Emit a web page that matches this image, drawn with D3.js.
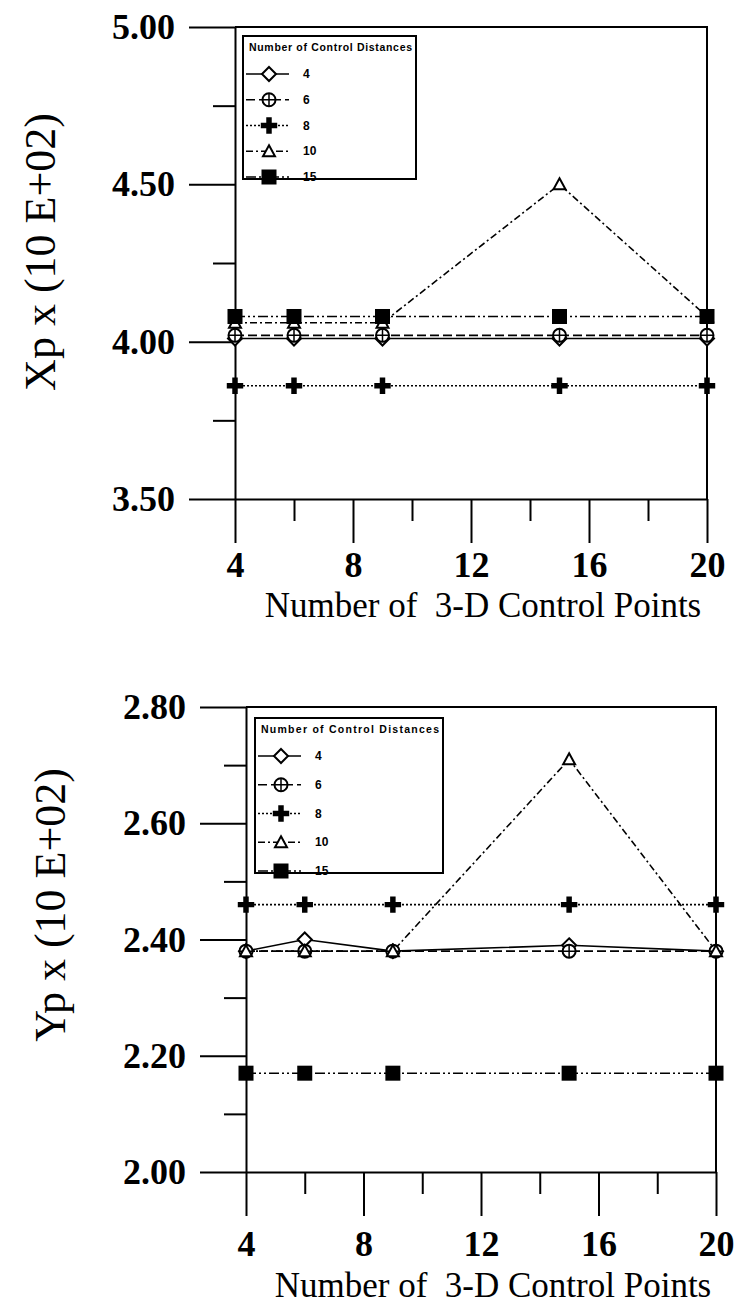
<!DOCTYPE html>
<html>
<head>
<meta charset="utf-8">
<script src="https://cdn.jsdelivr.net/npm/d3@7"></script>
<style>
body { margin: 0; background: #fff; }
</style>
</head>
<body>
<div id="chart"></div>
<script>
// x positions: number of 3-D control points
const controlPoints = [4, 6, 9, 15, 20];
// legend entries: number of control distances
const distanceLabels = ["4", "6", "8", "10", "15"];

// Xp (x 10E+02)
const xp4  = [4.01, 4.01, 4.01, 4.01, 4.01];
const xp6  = [4.02, 4.02, 4.02, 4.02, 4.02];
const xp8  = [3.86, 3.86, 3.86, 3.86, 3.86];
const xp10 = [4.06, 4.06, 4.06, 4.50, 4.08];
const xp15 = [4.08, 4.08, 4.08, 4.08, 4.08];

// Yp (x 10E+02)
const yp4  = [2.38, 2.40, 2.38, 2.39, 2.38];
const yp6  = [2.38, 2.38, 2.38, 2.38, 2.38];
const yp8  = [2.46, 2.46, 2.46, 2.46, 2.46];
const yp10 = [2.38, 2.38, 2.38, 2.71, 2.38];
const yp15 = [2.17, 2.17, 2.17, 2.17, 2.17];

// ticks
const xTicksMajor = [4, 8, 12, 16, 20];
const xTicksMinor = [6, 10, 14, 18];
const xpTicksMajor = [3.5, 4.0, 4.5, 5.0];
const xpTicksMinor = [3.75, 4.25, 4.75];
const ypTicksMajor = [2.0, 2.2, 2.4, 2.6, 2.8];
const ypTicksMinor = [2.1, 2.3, 2.5, 2.7];

// line dash and marker for each series (same order as distanceLabels)
const lineDash = ["none", "9,4", "2,2", "7,3,2,3", "10,3,2,3,2,3"];
const markerType = ["diamond", "circlePlus", "plus", "triangle", "square"];

const W = 737, H = 1316;
const serif = "'Liberation Serif', 'Times New Roman', serif";
const sans = "'Liberation Sans', Arial, sans-serif";

const svg = d3.select("#chart").append("svg")
    .attr("width", W)
    .attr("height", H);

const panels = [
    {
        values: [xp4, xp6, xp8, xp10, xp15],
        yDomain: [3.5, 5.0], yMajor: xpTicksMajor, yMinor: xpTicksMinor,
        xRange: [235, 707], yRange: [499, 27],
        labelPad: 8, titleOffset: 118,
        title: "Xp x (10 E+02)", titleX: 40, titleY: 252,
        legend: { x: 243, y: 36, w: 173, h: 143 }
    },
    {
        values: [yp4, yp6, yp8, yp10, yp15],
        yDomain: [2.0, 2.8], yMajor: ypTicksMajor, yMinor: ypTicksMinor,
        xRange: [246, 716], yRange: [1172, 707],
        labelPad: 14, titleOffset: 125,
        title: "Yp x (10 E+02)", titleX: 50, titleY: 905,
        legend: { x: 255, y: 718, w: 188, h: 155 }
    }
];

function drawMarker(g, type, cx, cy) {
    if (type === "diamond") {
        g.append("path")
            .attr("d", `M${cx},${cy - 7}L${cx + 7},${cy}L${cx},${cy + 7}L${cx - 7},${cy}Z`)
            .attr("fill", "#fff").attr("stroke", "#000").attr("stroke-width", 2);
    } else if (type === "circlePlus") {
        g.append("circle").attr("cx", cx).attr("cy", cy).attr("r", 6.5)
            .attr("fill", "#fff").attr("stroke", "#000").attr("stroke-width", 2);
        g.append("path")
            .attr("d", `M${cx - 6.5},${cy}H${cx + 6.5}M${cx},${cy - 6.5}V${cy + 6.5}`)
            .attr("stroke", "#000").attr("stroke-width", 1.5);
    } else if (type === "plus") {
        g.append("path")
            .attr("transform", `translate(${cx},${cy})`)
            .attr("d", d3.symbol(d3.symbolCross, 150)())
            .attr("fill", "#000");
    } else if (type === "triangle") {
        g.append("path")
            .attr("d", `M${cx},${cy - 6}L${cx + 6},${cy + 5}L${cx - 6},${cy + 5}Z`)
            .attr("fill", "#fff").attr("stroke", "#000").attr("stroke-width", 2);
    } else {
        g.append("rect").attr("x", cx - 7.5).attr("y", cy - 7.5)
            .attr("width", 15).attr("height", 15).attr("fill", "#000");
    }
}

panels.forEach(p => {
    const x = d3.scaleLinear().domain([4, 20]).range(p.xRange);
    const y = d3.scaleLinear().domain(p.yDomain).range(p.yRange);
    const g = svg.append("g");
    const x0 = p.xRange[0], x1 = p.xRange[1];
    const yb = p.yRange[0], yt = p.yRange[1];

    // frame: top and right
    g.append("path")
        .attr("d", `M${x0},${yt}H${x1}V${yb}`)
        .attr("fill", "none").attr("stroke", "#000").attr("stroke-width", 2);

    // x axis
    const xMaj = g.append("g").attr("transform", `translate(0,${yb})`)
        .call(d3.axisBottom(x).tickValues(xTicksMajor).tickSize(44).tickSizeOuter(0)
            .tickPadding(p.labelPad).tickFormat(d3.format("d")));
    const xMin = g.append("g").attr("transform", `translate(0,${yb})`)
        .call(d3.axisBottom(x).tickValues(xTicksMinor).tickSize(22).tickFormat(""));
    xMin.select(".domain").remove();

    // y axis
    const yMaj = g.append("g").attr("transform", `translate(${x0},0)`)
        .call(d3.axisLeft(y).tickValues(p.yMajor).tickSize(46).tickSizeOuter(0)
            .tickPadding(14).tickFormat(d3.format(".2f")));
    const yMin = g.append("g").attr("transform", `translate(${x0},0)`)
        .call(d3.axisLeft(y).tickValues(p.yMinor).tickSize(22).tickFormat(""));
    yMin.select(".domain").remove();

    [xMaj, xMin, yMaj, yMin].forEach(a => {
        a.selectAll("path, line").attr("stroke", "#000").attr("stroke-width", 2);
        a.selectAll("text")
            .attr("fill", "#000")
            .style("font-family", serif)
            .style("font-weight", "bold")
            .style("font-size", "36px");
    });

    // axis titles
    g.append("text")
        .attr("x", (x0 + x1) / 2 + 12)
        .attr("y", yb + p.titleOffset)
        .attr("text-anchor", "middle")
        .style("font-family", serif)
        .style("font-size", "35px")
        .text("Number of\u00a0 3-D Control Points");

    g.append("text")
        .attr("transform", `translate(${p.titleX},${p.titleY}) rotate(-90)`)
        .attr("text-anchor", "middle")
        .attr("dy", "0.35em")
        .style("font-family", serif)
        .style("font-size", "44px")
        .text(p.title);

    // series lines
    const line = d3.line()
        .x((d, i) => x(controlPoints[i]))
        .y(d => y(d));

    p.values.forEach((vals, s) => {
        g.append("path")
            .datum(vals)
            .attr("d", line)
            .attr("fill", "none")
            .attr("stroke", "#000")
            .attr("stroke-width", 1.6)
            .attr("stroke-dasharray", lineDash[s]);
    });

    // markers
    p.values.forEach((vals, s) => {
        const mg = g.append("g");
        vals.forEach((v, i) => drawMarker(mg, markerType[s], x(controlPoints[i]), y(v)));
    });

    // legend
    const L = p.legend;
    const lg = g.append("g").attr("transform", `translate(${L.x},${L.y})`);
    lg.append("rect")
        .attr("width", L.w).attr("height", L.h)
        .attr("fill", "#fff").attr("stroke", "#000").attr("stroke-width", 2);
    lg.append("text")
        .attr("x", 6).attr("y", 15)
        .style("font-family", sans)
        .style("font-weight", "bold")
        .style("font-size", "10.5px")
        .attr("textLength", L.w - 10)
        .text("Number of Control Distances");
    const rowStep = (L.h - 40) / 4;
    distanceLabels.forEach((lab, s) => {
        const ry = 38 + s * rowStep;
        lg.append("line")
            .attr("x1", 3).attr("x2", 46).attr("y1", ry).attr("y2", ry)
            .attr("stroke", "#000").attr("stroke-width", 1.6)
            .attr("stroke-dasharray", lineDash[s]);
        drawMarker(lg, markerType[s], 26, ry);
        lg.append("text")
            .attr("x", 60).attr("y", ry)
            .attr("dy", "0.35em")
            .style("font-family", sans)
            .style("font-weight", "bold")
            .style("font-size", "12px")
            .text(lab);
    });
});
</script>
</body>
</html>
